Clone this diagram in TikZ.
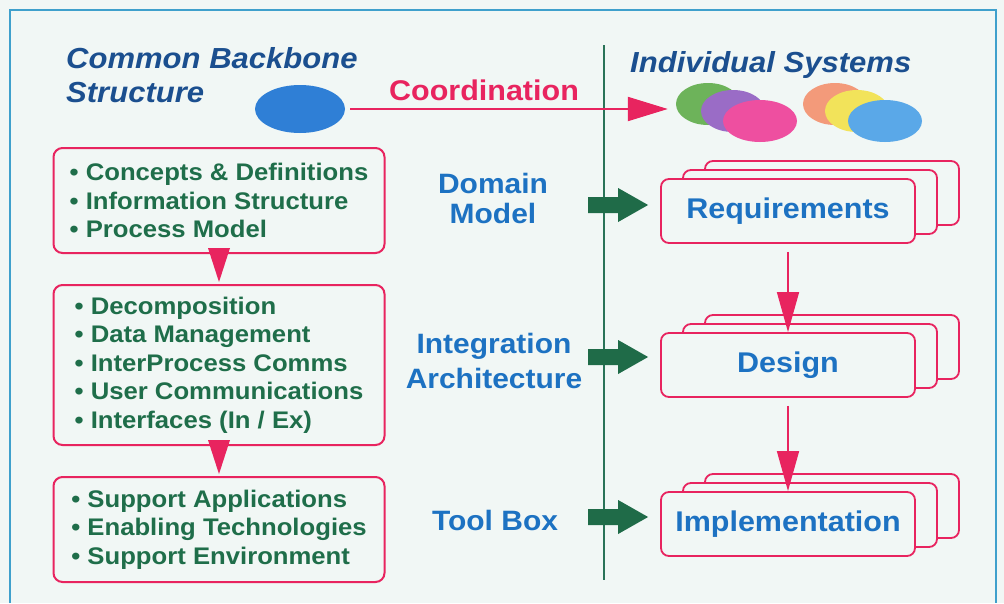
\documentclass[tikz,border=0pt]{standalone}
\usepackage{fontspec}
\setmainfont{Liberation Sans}[FakeStretch=1.07]
\usetikzlibrary{shapes.geometric,arrows.meta,calc}
\definecolor{bg}{HTML}{F1F7F5}
\definecolor{pinkred}{HTML}{E8245F}
\definecolor{tgreen}{HTML}{1F6E4A}
\definecolor{garrow}{HTML}{1F6B48}
\definecolor{vgreen}{HTML}{2A7358}
\definecolor{mblue}{HTML}{1D72C2}
\definecolor{tblue}{HTML}{1B4F8F}
\definecolor{frameblue}{HTML}{3FA0CC}
\definecolor{e0}{HTML}{2F7FD6}
\definecolor{e1}{HTML}{6DB35A}
\definecolor{e2}{HTML}{9A6CC6}
\definecolor{e3}{HTML}{EE4FA0}
\definecolor{e4}{HTML}{F39A7A}
\definecolor{e5}{HTML}{F2E35A}
\definecolor{e6}{HTML}{5AA8E8}
\begin{document}
\begin{tikzpicture}[x=1pt,y=-1pt,
  listbox/.style={draw=pinkred, line width=2pt, rounded corners=9pt, fill=bg,
    minimum width=331pt, align=left, text=tgreen, inner sep=0pt,
    font=\fontsize{24}{28.5}\selectfont\bfseries},
  stackbox/.style={draw=pinkred, line width=1.8pt, rounded corners=8pt, fill=bg,
    minimum width=254pt, minimum height=64pt, inner sep=0pt, text=mblue,
    font=\fontsize{28.5}{34}\selectfont\bfseries},
  midlabel/.style={text=mblue, align=center, inner sep=0pt,
    font=\fontsize{28}{30}\selectfont\bfseries},
  titletext/.style={text=tblue, inner sep=0pt, align=left,
    font=\fontsize{29}{34}\selectfont\bfseries\itshape},
  blob/.style={ellipse, inner sep=0pt, minimum width=64pt, minimum height=42pt},
  bigblob/.style={ellipse, inner sep=0pt, minimum width=74pt, minimum height=42pt},
  redarrow/.style={draw=pinkred, line width=1.5pt, -{Triangle[length=40pt,width=22pt]}},
  coordarrow/.style={draw=pinkred, line width=2pt, -{Triangle[length=40pt,width=24pt]}},
  greenblock/.style={fill=garrow},
  trifill/.style={fill=pinkred}
]
\useasboundingbox (0,0) rectangle (1004,603);
\fill[bg] (0,0) rectangle (1004,603);
% frame
\draw[frameblue, line width=1.2pt] (10,603) -- (10,10) -- (996,10) -- (996,603);
% divider
\draw[vgreen, line width=2pt] (604,45) -- (604,580);

% titles
\node[titletext, anchor=north west] (title) at (66,47) {Common Backbone\\Structure};
\node[titletext, anchor=base west] (indiv) at (630,72) {Individual Systems};

% ellipses
\node[ellipse, inner sep=0pt, minimum width=90pt, minimum height=48pt, fill=e0] (bb) at (300,109) {};
\node[blob, fill=e1] (g1) at (708,104) {};
\node[blob, fill=e2] (g2) at (733,111) {};
\node[bigblob, fill=e3] (g3) at (760,121) {};
\node[blob, fill=e4] (g4) at (835,104) {};
\node[blob, fill=e5] (g5) at (857,111) {};
\node[bigblob, fill=e6] (g6) at (885,121) {};

% coordination
\draw[coordarrow, shorten <=5pt, shorten >=8pt] (bb.east) -- (bb.east -| g1.west);
\node[anchor=base, text=pinkred, inner sep=0pt, font=\fontsize{28.5}{34}\selectfont\bfseries] (coord) at (484,100) {Coordination};

% left boxes
\node[listbox, minimum height=105pt] (b1) at (219,200.5) {\textbullet\ Concepts \& Definitions\\\textbullet\ Information Structure\\\textbullet\ Process Model};
\node[listbox, minimum height=160pt] (b2) at (219,365) {\textbullet\ Decomposition\\\textbullet\ Data Management\\\textbullet\ InterProcess Comms\\\textbullet\ User Communications\\\textbullet\ Interfaces (In / Ex)};
\node[listbox, minimum height=105pt] (b3) at (219,529.5) {\textbullet\ Support Applications\\\textbullet\ Enabling Technologies\\\textbullet\ Support Environment};
\fill[trifill] ([xshift=-11pt,yshift=6pt]b1.south) -- ([xshift=11pt,yshift=6pt]b1.south) -- ([yshift=2pt]b2.north) -- cycle;
\fill[trifill] ([xshift=-11pt,yshift=6pt]b2.south) -- ([xshift=11pt,yshift=6pt]b2.south) -- ([yshift=2pt]b3.north) -- cycle;

% middle labels
\node[midlabel] (dm) at (493,198) {Domain\\Model};
\node[midlabel, font=\fontsize{28}{34.5}\selectfont\bfseries] (ia) at (494,361) {Integration\\Architecture};
\node[midlabel] (tb) at (495,520) {Tool Box};

% right stacked boxes
\node[stackbox] (reqB) at (832,193) {};
\node[stackbox] (reqM) at (810,202) {};
\node[stackbox] (req) at (788,211) {Requirements};
\node[stackbox] (desB) at (832,347) {};
\node[stackbox] (desM) at (810,356) {};
\node[stackbox] (des) at (788,365) {Design};
\node[stackbox] (impB) at (832,506) {};
\node[stackbox] (impM) at (810,515) {};
\node[stackbox] (imp) at (788,524) {Implementation};

\draw[redarrow] ([yshift=-8pt]req.south) -- (des.north);
\draw[redarrow] ([yshift=-8pt]des.south) -- (imp.north);

% green block arrows
\coordinate (ga1) at ($(req.west)+(-72,-6)$);
\coordinate (ga2) at ($(des.west)+(-72,-8)$);
\coordinate (ga3) at ($(imp.west)+(-72,-7)$);
\foreach \c in {ga1,ga2,ga3}
  \fill[greenblock] (\c) ++(0,-8) -- ++(30,0) -- ++(0,-9) -- ++(30,17) -- ++(-30,17) -- ++(0,-9) -- ++(-30,0) -- cycle;
\end{tikzpicture}
\end{document}
